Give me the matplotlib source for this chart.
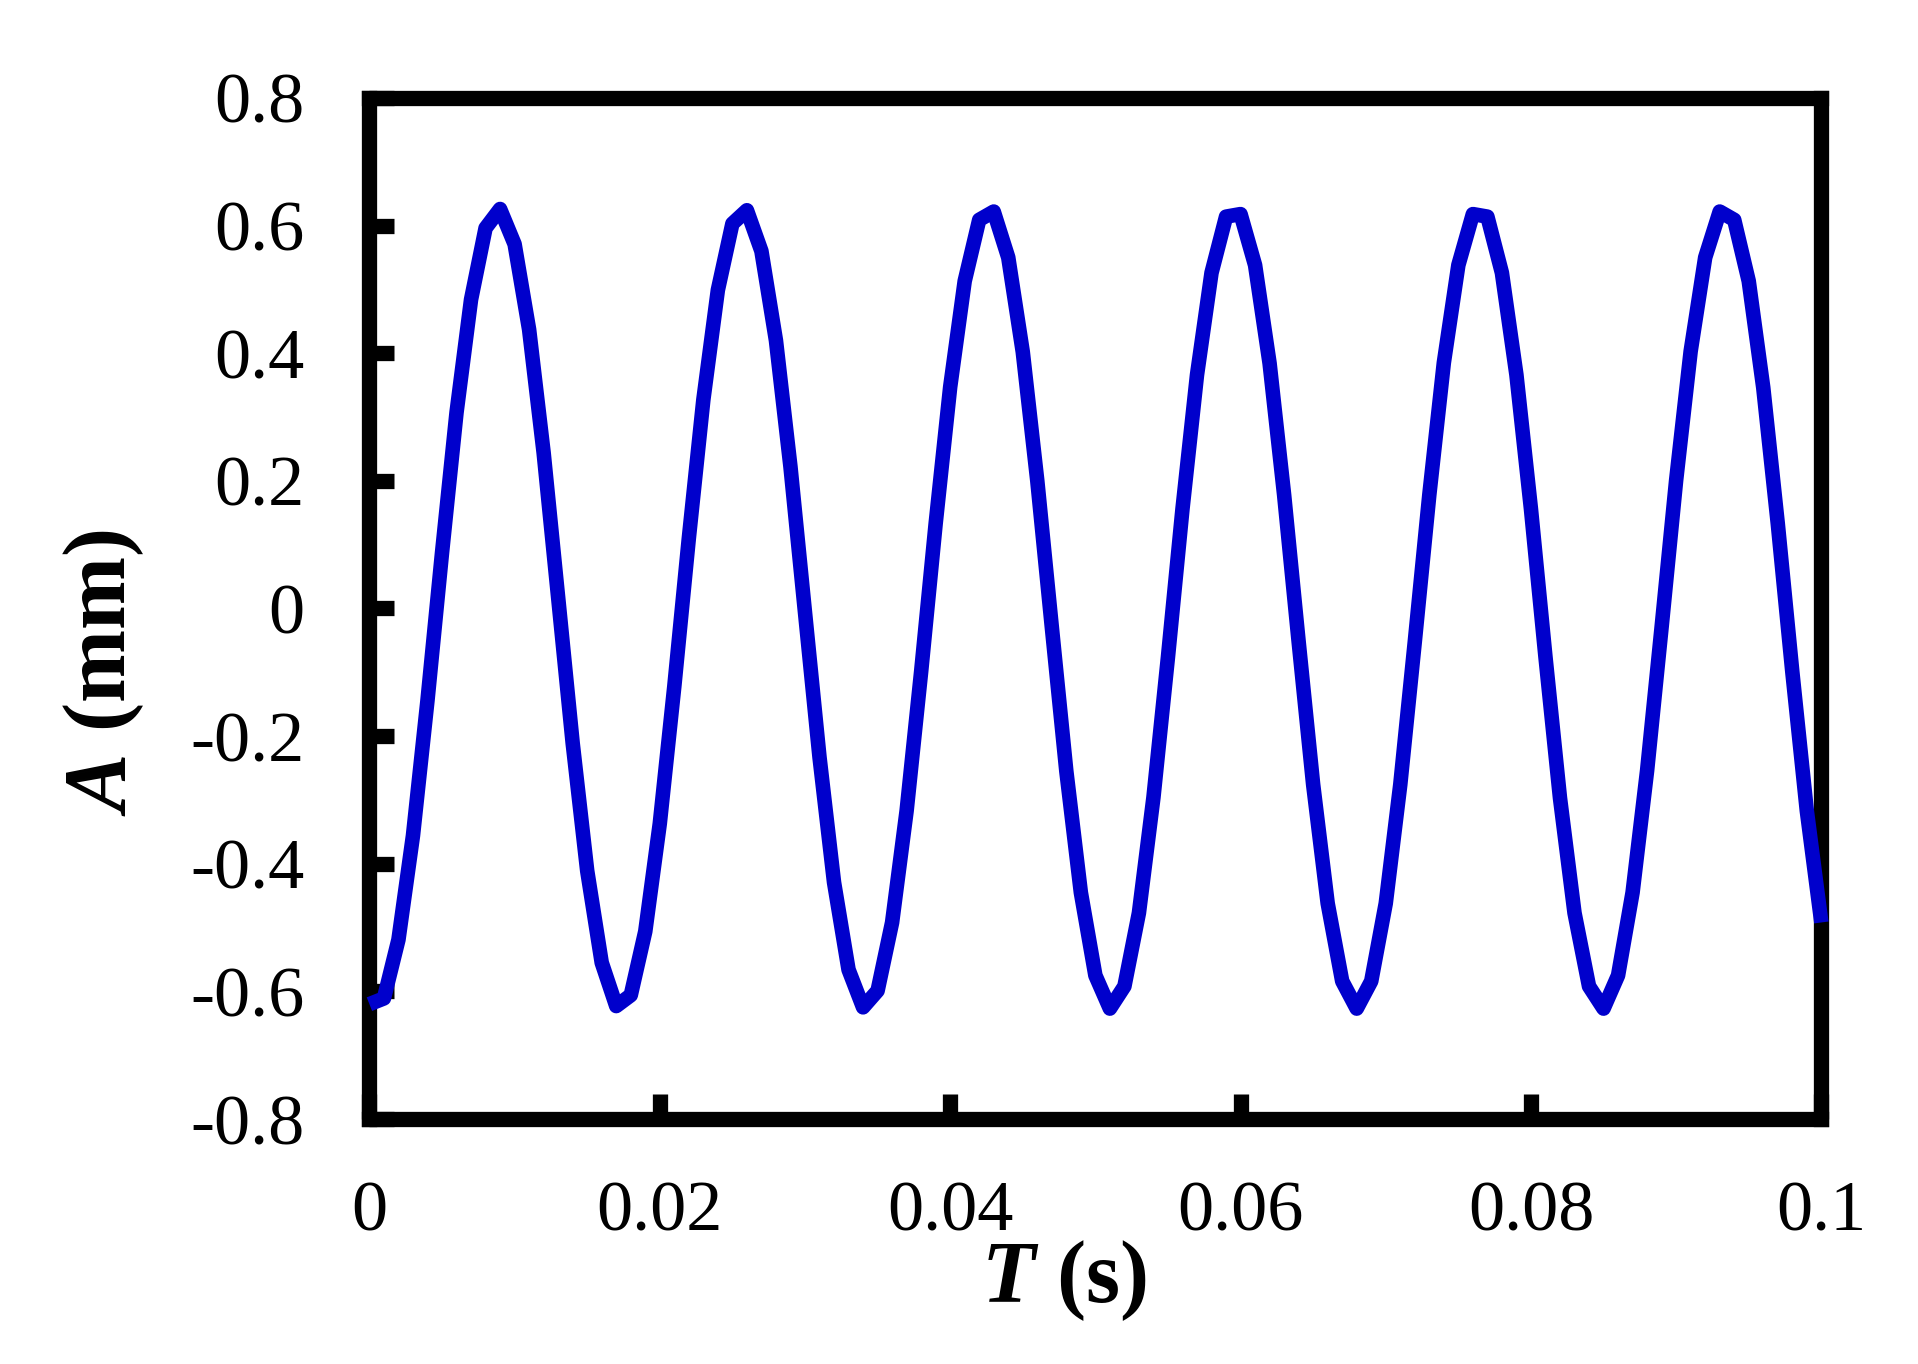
import numpy as np
import matplotlib
matplotlib.use("Agg")
import matplotlib.pyplot as plt

# time (s), one sample per ms
t = np.arange(0, 101) / 1000.0

# amplitude (mm)
amp = [-0.620, -0.611, -0.519, -0.356, -0.144, 0.087, 0.307, 0.484, 0.596, 0.626,
       0.571, 0.437, 0.244, 0.017, -0.211, -0.411, -0.555, -0.623, -0.606, -0.506,
       -0.337, -0.122, 0.110, 0.327, 0.499, 0.603, 0.624, 0.560, 0.420, 0.222,
       -0.006, -0.233, -0.429, -0.566, -0.625, -0.599, -0.492, -0.317, -0.099, 0.133,
       0.347, 0.513, 0.609, 0.622, 0.550, 0.402, 0.200, -0.029, -0.255, -0.445,
       -0.575, -0.627, -0.592, -0.477, -0.296, -0.076, 0.156, 0.366, 0.526, 0.614,
       0.618, 0.538, 0.384, 0.178, -0.052, -0.276, -0.462, -0.584, -0.627, -0.584,
       -0.462, -0.276, -0.052, 0.178, 0.385, 0.538, 0.618, 0.614, 0.526, 0.366,
       0.156, -0.076, -0.297, -0.477, -0.592, -0.627, -0.575, -0.445, -0.254, -0.029,
       0.201, 0.403, 0.550, 0.622, 0.609, 0.513, 0.346, 0.133, -0.099, -0.317,
       -0.492]

xticks = [0, 0.02, 0.04, 0.06, 0.08, 0.1]
xticklabels = ["0", "0.02", "0.04", "0.06", "0.08", "0.1"]
yticks = [-0.8, -0.6, -0.4, -0.2, 0, 0.2, 0.4, 0.6, 0.8]
yticklabels = ["-0.8", "-0.6", "-0.4", "-0.2", "0", "0.2", "0.4", "0.6", "0.8"]

plt.rcParams['font.family'] = 'Liberation Serif'
plt.rcParams['mathtext.fontset'] = 'custom'
plt.rcParams['mathtext.it'] = 'Liberation Serif:italic:bold'
plt.rcParams['mathtext.rm'] = 'Liberation Serif:bold'

fig = plt.figure(figsize=(19.18, 13.64), dpi=100)
ax = fig.add_axes([0.1926, 0.1796, 0.757, 0.7486])

ax.plot(t, amp, color='#0000cc', linewidth=10.5, clip_on=False, zorder=3,
        solid_capstyle='butt')

ax.set_xlim(0, 0.1)
ax.set_ylim(-0.8, 0.8)
ax.set_xticks(xticks)
ax.set_xticklabels(xticklabels)
ax.set_yticks(yticks)
ax.set_yticklabels(yticklabels)

for s in ax.spines.values():
    s.set_linewidth(11)
    s.set_capstyle('projecting')
ax.tick_params(direction='in', length=18, width=11, labelsize=52,
               top=False, right=False)
ax.tick_params(axis='x', pad=44)
ax.tick_params(axis='y', pad=47)

fig.text(0.0542, 0.5068, r'$A$ (mm)', rotation=90, ha='center', va='center',
         fontsize=63, fontweight='bold')
fig.text(0.5549, 0.061, r'$T$ (s)', ha='center', va='center',
         fontsize=63, fontweight='bold')

fig.savefig('out.png', dpi=100)
